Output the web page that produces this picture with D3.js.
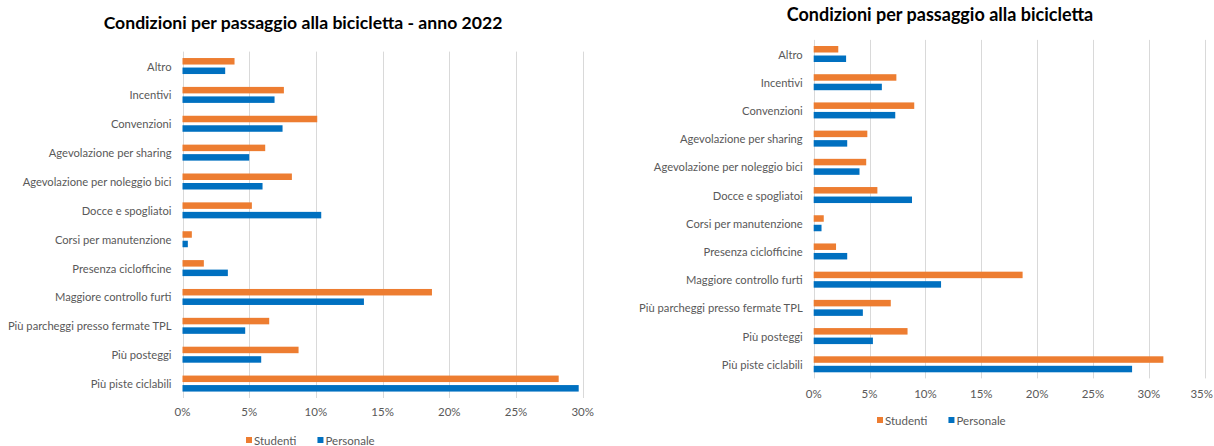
<!DOCTYPE html>
<html>
<meta charset="utf-8">
<script src="https://cdn.jsdelivr.net/npm/d3@7"></script>
<style>
body{
  margin: 0;
  background: white;
}
svg text{
  font-family: Lato, "Open Sans", sans-serif;
}
.grid line{
  stroke: #d9d9d9;
  stroke-width: 1;
}
.catLabel{
  fill: #595959;
  font-size: 11.2px;
}
.tickLabel, .legendText{
  fill: #595959;
  font-size: 11.5px;
}
.title{
  fill: #000;
  font-weight: bold;
}
</style>
<body>
<svg id="chart" width="1214" height="446"></svg>
<script>
var categories = ["Altro", "Incentivi", "Convenzioni", "Agevolazione per sharing",
  "Agevolazione per noleggio bici", "Docce e spogliatoi", "Corsi per manutenzione",
  "Presenza ciclofficine", "Maggiore controllo furti", "Più parcheggi presso fermate TPL",
  "Più posteggi", "Più piste ciclabili"];

var series = ["Studenti", "Personale"];
var colors = ["#ed7d31", "#0070c0"];

// anno 2022 (left)
var studenti2022  = [3.9, 7.6, 10.1, 6.2, 8.2, 5.2, 0.7, 1.6, 18.7, 6.5, 8.7, 28.2];
var personale2022 = [3.2, 6.9, 7.5, 5.0, 6.0, 10.4, 0.4, 3.4, 13.6, 4.7, 5.9, 29.7];
var ticks2022 = [0, 5, 10, 15, 20, 25, 30];

// right chart
var studenti  = [2.2, 7.4, 9.0, 4.8, 4.7, 5.7, 0.9, 2.0, 18.7, 6.9, 8.4, 31.3];
var personale = [2.9, 6.1, 7.3, 3.0, 4.1, 8.8, 0.7, 3.0, 11.4, 4.4, 5.3, 28.5];
var ticksAll = [0, 5, 10, 15, 20, 25, 30, 35];

var svg = d3.select("#chart");
var svgWidth = +svg.attr("width");

function drawChart(opt){
  var g = svg.append("g");

  var x = d3.scaleLinear().domain([0, opt.max]).range([opt.left, opt.right]);
  var y = d3.scaleBand().domain(categories).range([opt.top, opt.bottom]);

  // gridlines
  g.append("g").attr("class", "grid")
    .selectAll("line").data(opt.ticks).enter()
    .append("line")
    .attr("x1", function(d){ return Math.round(x(d)) + 0.5; })
    .attr("x2", function(d){ return Math.round(x(d)) + 0.5; })
    .attr("y1", opt.top)
    .attr("y2", opt.bottom);

  // tick labels
  g.selectAll(".tickLabel").data(opt.ticks).enter()
    .append("text")
    .attr("class", "tickLabel")
    .attr("x", function(d){ return x(d); })
    .attr("y", opt.tickY)
    .attr("text-anchor", "middle")
    .attr("dominant-baseline", "central")
    .text(function(d){ return d + "%"; })
    .each(function(){
      // keep the last label inside the page
      var w = this.getComputedTextLength();
      var cx = +d3.select(this).attr("x");
      if (cx + w / 2 > svgWidth - 1) d3.select(this).attr("x", svgWidth - 1 - w / 2);
    });

  // category labels
  g.selectAll(".catLabel").data(categories).enter()
    .append("text")
    .attr("class", "catLabel")
    .attr("x", opt.left - 11)
    .attr("y", function(d){ return y(d) + y.bandwidth() / 2; })
    .attr("text-anchor", "end")
    .attr("dominant-baseline", "central")
    .text(function(d){ return d; });

  // bars: orange above, blue below
  var barH = 6.5;
  var offsets = [-8, 1.5];
  [opt.s1, opt.s2].forEach(function(vals, si){
    g.selectAll(".bar" + si).data(vals).enter()
      .append("rect")
      .attr("class", "bar" + si)
      .attr("x", x(0))
      .attr("y", function(d, i){ return y(categories[i]) + y.bandwidth() / 2 + offsets[si]; })
      .attr("width", function(d){ return x(d) - x(0); })
      .attr("height", barH)
      .attr("fill", colors[si]);
  });

  // title
  g.append("text")
    .attr("class", "title")
    .attr("x", opt.titleX)
    .attr("y", opt.titleY)
    .attr("text-anchor", "middle")
    .style("font-size", opt.titleSize + "px")
    .text(opt.title);

  // legend
  var lg = g.append("g").attr("transform", "translate(" + opt.legendX + "," + opt.legendY + ")");
  var lx = 0;
  series.forEach(function(s, i){
    lg.append("rect")
      .attr("x", lx).attr("y", -3)
      .attr("width", 6).attr("height", 6)
      .attr("fill", colors[i]);
    var t = lg.append("text")
      .attr("class", "legendText")
      .attr("x", lx + 8)
      .attr("y", 0)
      .attr("dominant-baseline", "central")
      .text(s);
    lx += 8 + t.node().getComputedTextLength() + 21;
  });
}

drawChart({
  title: "Condizioni per passaggio alla bicicletta - anno 2022",
  titleX: 303, titleY: 29, titleSize: 17.6,
  s1: studenti2022, s2: personale2022,
  max: 30, ticks: ticks2022,
  left: 182.5, right: 582.7, top: 51.6, bottom: 398,
  tickY: 411,
  legendX: 246, legendY: 440
});

drawChart({
  title: "Condizioni per passaggio alla bicicletta",
  titleX: 940, titleY: 20.5, titleSize: 18,
  s1: studenti, s2: personale,
  max: 35, ticks: ticksAll,
  left: 813.7, right: 1204.7, top: 39.9, bottom: 378.4,
  tickY: 393,
  legendX: 877, legendY: 420
});
</script>
</body>
</html>
